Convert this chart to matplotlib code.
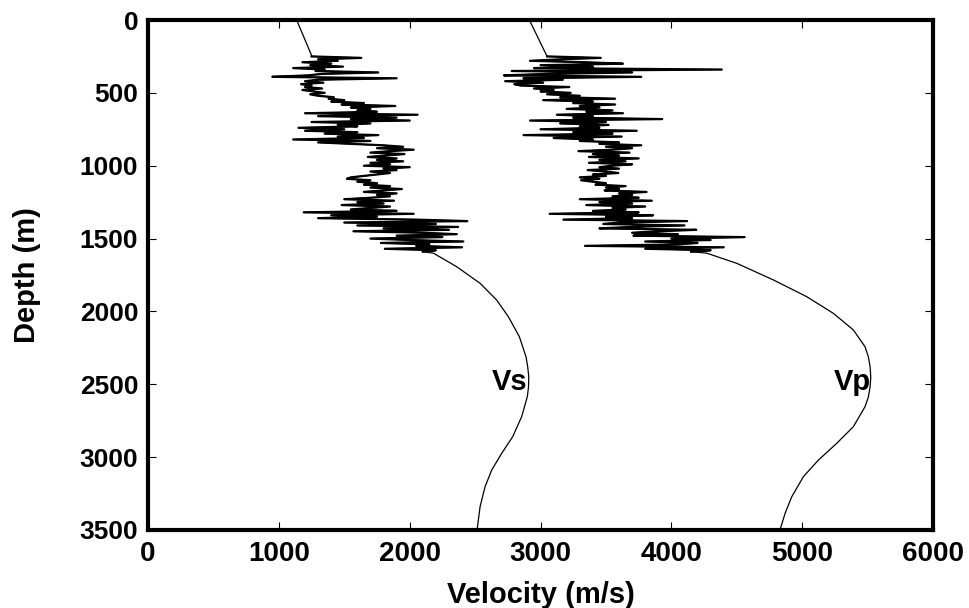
import numpy as np
import matplotlib
matplotlib.use('Agg')
import matplotlib.pyplot as plt

# shallow linear trend above the logged interval
top_depth = [0, 245]
vs_top = [1136, 1251]
vp_top = [2915, 3047]

# logged interval, one sample every 10 m from 250 m to 1590 m
log_depth = np.arange(250, 1600, 10)
vs_log = [1250, 1630, 1300, 1450, 1180, 1400, 1240, 1490, 1110, 1350,
          1280, 1760, 1330, 1220, 950, 1900, 1300, 1200, 1340, 1170,
          1250, 1200, 1330, 1180, 1260, 1350, 1240, 1300, 1420, 1380,
          1500, 1400, 1650, 1480, 1890, 1550, 1700, 1600, 1750, 1200,
          2060, 1300, 1900, 1550, 2000, 1250, 1700, 1450, 1600, 1150,
          1500, 1200, 1600, 1350, 1760, 1450, 1650, 1110, 1700, 1300,
          1550, 1800, 1950, 1750, 2030, 1850, 1700, 1960, 1820, 1680,
          1900, 1750, 1950, 1700, 1850, 1650, 2000, 1800, 1900, 1700,
          1850, 1750, 1650, 1550, 1520, 1700, 1600, 1750, 1650, 1850,
          1700, 1940, 1800, 1650, 1900, 1750, 1850, 1700, 1500, 1880,
          1600, 1800, 1480, 1850, 1700, 1550, 1900, 1190, 2030, 1400,
          1750, 1300, 2050, 2440, 1500, 2200, 1600, 2370, 1800, 2300,
          1570, 2100, 2360, 1900, 2250, 1700, 2000, 2410, 1780, 2150,
          2050, 2400, 1810, 2200, 2100]
vp_log = [3050, 3460, 3150, 2920, 3350, 3630, 3000, 3400, 2950, 4385,
          2780, 3700, 3050, 2720, 3770, 2870, 3170, 2730, 3020, 2800,
          2850, 3220, 2950, 3100, 3000, 3230, 3050, 3300, 3150, 3570,
          3020, 3400, 3250, 3570, 3300, 3450, 3200, 3550, 3350, 3630,
          3125, 3400, 3250, 3930, 2920, 3500, 3150, 3520, 3300, 3450,
          3000, 3735, 3250, 3550, 2870, 3620, 3100, 3400, 3300, 3600,
          3450, 3770, 3500, 3700, 3550, 3290, 3680, 3400, 3600, 3370,
          3750, 3450, 3650, 3370, 3700, 3550, 3450, 3600, 3360, 3500,
          3595, 3400, 3500, 3300, 3450, 3310, 3400, 3500, 3420, 3650,
          3500, 3600, 3490, 3810, 3600, 3700, 3550, 3750, 3300, 3850,
          3450, 3700, 3350, 3800, 3550, 3650, 3400, 3750, 3070, 3860,
          3500, 3700, 3175, 4120, 3600, 3480, 4100, 3700, 3450, 4190,
          3900, 3700, 4050, 3710, 4560, 4000, 4300, 3800, 4200, 4050,
          3340, 4400, 3800, 4300, 4150]

# smooth model below the log
vs_deep_depth = [1600, 1693, 1807, 1922, 2036, 2173, 2311, 2380, 2448,
                 2520, 2585, 2722, 2860, 2974, 3088, 3203, 3340, 3500]
vs_deep = [2181, 2359, 2538, 2665, 2754, 2838, 2889, 2902, 2910,
           2908, 2899, 2856, 2787, 2703, 2627, 2576, 2538, 2515]
vp_deep_depth = [1600, 1670, 1784, 1899, 2013, 2127, 2242, 2310, 2379,
                 2450, 2517, 2590, 2654, 2791, 2905, 3020, 3134, 3272,
                 3386, 3500]
vp_deep = [4270, 4500, 4780, 5035, 5238, 5391, 5480, 5505, 5519,
           5524, 5519, 5505, 5480, 5391, 5264, 5124, 5009, 4920,
           4869, 4830]

depth_vs = np.concatenate([top_depth, log_depth, vs_deep_depth])
vs = np.concatenate([vs_top, vs_log, vs_deep])
depth_vp = np.concatenate([top_depth, log_depth, vp_deep_depth])
vp = np.concatenate([vp_top, vp_log, vp_deep])

plt.rcParams['font.family'] = 'Liberation Sans'
plt.rcParams['font.weight'] = 'bold'

fig = plt.figure(figsize=(9.7, 6.08), dpi=100)
ax = fig.add_axes([0.1526, 0.1283, 0.8093, 0.8388])

ax.plot(vs, depth_vs, color='black', lw=0.9)
ax.plot(vp, depth_vp, color='black', lw=0.9)
# the logged interval is drawn heavier
ax.plot(vs_log, log_depth, color='black', lw=1.6)
ax.plot(vp_log, log_depth, color='black', lw=1.6)

ax.text(2767, 2539, 'Vs', fontsize=21, fontweight='bold', ha='center', va='baseline')
ax.text(5381, 2539, 'Vp', fontsize=21, fontweight='bold', ha='center', va='baseline')

ax.set_xlim(0, 6000)
ax.set_ylim(3500, 0)
ax.set_xticks(np.arange(0, 6001, 1000))
ax.set_yticks(np.arange(0, 3501, 500))

for side in ax.spines.values():
    side.set_linewidth(3)
ax.tick_params(direction='in', top=True, right=True, length=6, width=0.8)
ax.tick_params(axis='x', labelsize=20, pad=8)
ax.tick_params(axis='y', labelsize=19, pad=7)
for lab in ax.get_xticklabels() + ax.get_yticklabels():
    lab.set_fontweight('bold')

ax.set_xlabel('Velocity (m/s)', fontsize=21, fontweight='bold', labelpad=10)
ax.set_ylabel('Depth (m)', fontsize=21, fontweight='bold', labelpad=28)

fig.savefig('out.png', dpi=100)
